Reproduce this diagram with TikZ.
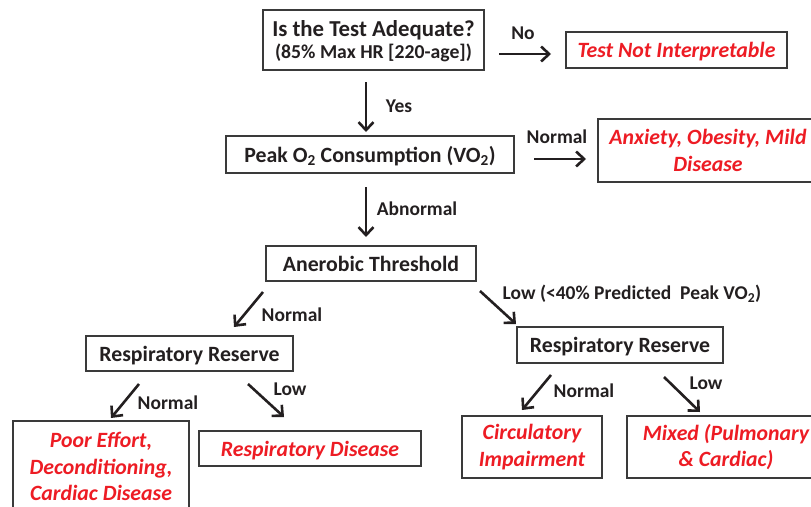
\documentclass[tikz,border=0pt]{standalone}
\usepackage{fontspec}
\setmainfont{Carlito}
\usetikzlibrary{arrows.meta}
\definecolor{redtxt}{HTML}{ED1C24}
\definecolor{ink}{HTML}{231F20}
\definecolor{boxgray}{HTML}{3A3A3A}
\begin{document}
\begin{tikzpicture}[x=1pt,y=-1pt,
  box/.style={draw=boxgray, line width=1.1pt, inner sep=0pt, align=center, text=ink,
    font=\bfseries\fontsize{21.8}{26.5}\selectfont},
  redbox/.style={box, text=redtxt, font=\bfseries\itshape\fontsize{21.8}{26.5}\selectfont},
  oneline/.style={text depth=0pt},
  lbl/.style={font=\bfseries\fontsize{19.5}{22}\selectfont, inner sep=0pt, text=ink,
    text height=12.5pt, text depth=0pt},
  arr/.style={draw=ink, line width=2.6pt, -{Straight Barb[length=8pt,width=15pt]}}]
\useasboundingbox (0,0) rectangle (811,506);
\clip (0,0) rectangle (811,506);

% boxes
\node[box, minimum width=221pt, minimum height=60pt, text depth=0pt,
  font=\bfseries\fontsize{22.8}{22}\selectfont] (A) at (373.5,40)
  {Is the Test Adequate?\\{\fontsize{19.7}{22}\selectfont (85\% Max HR [220-age])}};
\node[redbox, oneline, minimum width=221pt, minimum height=36pt] (TNI) at (676.5,50) {Test Not Interpretable};
\node[box, oneline, minimum width=288pt, minimum height=37pt] (P) at (370,154.5)
  {Peak O\textsubscript{2} Consumption (VO\textsubscript{2})};
\node[redbox, minimum width=220pt, minimum height=63pt] (AX) at (708,150.5) {Anxiety, Obesity, Mild\\Disease};
\node[box, oneline, minimum width=210pt, minimum height=35pt] (AT) at (371,263.5) {Anerobic Threshold};
\node[box, oneline, minimum width=207pt, minimum height=35pt] (RL) at (189.5,353.5) {Respiratory Reserve};
\node[box, oneline, minimum width=206pt, minimum height=36pt] (RR) at (620,345) {Respiratory Reserve};
\node[redbox, minimum width=176pt, minimum height=91pt] (PE) at (101,466.5) {Poor Effort,\\Deconditioning,\\Cardiac Disease};
\node[redbox, oneline, minimum width=222pt, minimum height=35pt] (RD) at (310,448.5) {Respiratory Disease};
\node[redbox, minimum width=140pt, minimum height=62pt] (CI) at (532,447) {Circulatory\\Impairment};
\node[redbox, minimum width=198pt, minimum height=62pt] (MX) at (726,447) {Mixed (Pulmonary\\\& Cardiac)};

% arrow end points
\coordinate (a1s) at (499,54);  \coordinate (a1e) at (551,54);
\coordinate (a2s) at (366,82);  \coordinate (a2e) at (366,132);
\coordinate (a3s) at (534,159); \coordinate (a3e) at (586,159);
\coordinate (a4s) at (366,187); \coordinate (a4e) at (366,237);
\coordinate (a5s) at (263,292); \coordinate (a5e) at (234,327);
\coordinate (a6s) at (480,291); \coordinate (a6e) at (516,324);
\coordinate (a7s) at (139,384); \coordinate (a7e) at (111,418);
\coordinate (a8s) at (248,384); \coordinate (a8e) at (284,417);
\coordinate (a9s) at (551,375); \coordinate (a9e) at (522,410);
\coordinate (a10s) at (664,377); \coordinate (a10e) at (700,412);

\draw[arr] (a1s) -- (a1e);
\draw[arr] (a2s) -- (a2e);
\draw[arr] (a3s) -- (a3e);
\draw[arr] (a4s) -- (a4e);
\draw[arr] (a5s) -- (a5e);
\draw[arr] (a6s) -- (a6e);
\draw[arr] (a7s) -- (a7e);
\draw[arr] (a8s) -- (a8e);
\draw[arr] (a9s) -- (a9e);
\draw[arr] (a10s) -- (a10e);

% labels
\node[lbl] (lNo) at (523,33) {No};
\node[lbl] (lYes) at (399,106) {Yes};
\node[lbl] (lN1) at (557,137) {Normal};
\node[lbl] (lAb) at (417,209) {Abnormal};
\node[lbl] (lN2) at (292,315) {Normal};
\node[lbl] (lLow1) at (632,293) {Low (<40\% Predicted~ Peak VO\textsubscript{2})};
\node[lbl] (lN3) at (168,403) {Normal};
\node[lbl] (lL2) at (290,389) {Low};
\node[lbl] (lN4) at (584,391) {Normal};
\node[lbl] (lL3) at (706,383) {Low};
\end{tikzpicture}
\end{document}
